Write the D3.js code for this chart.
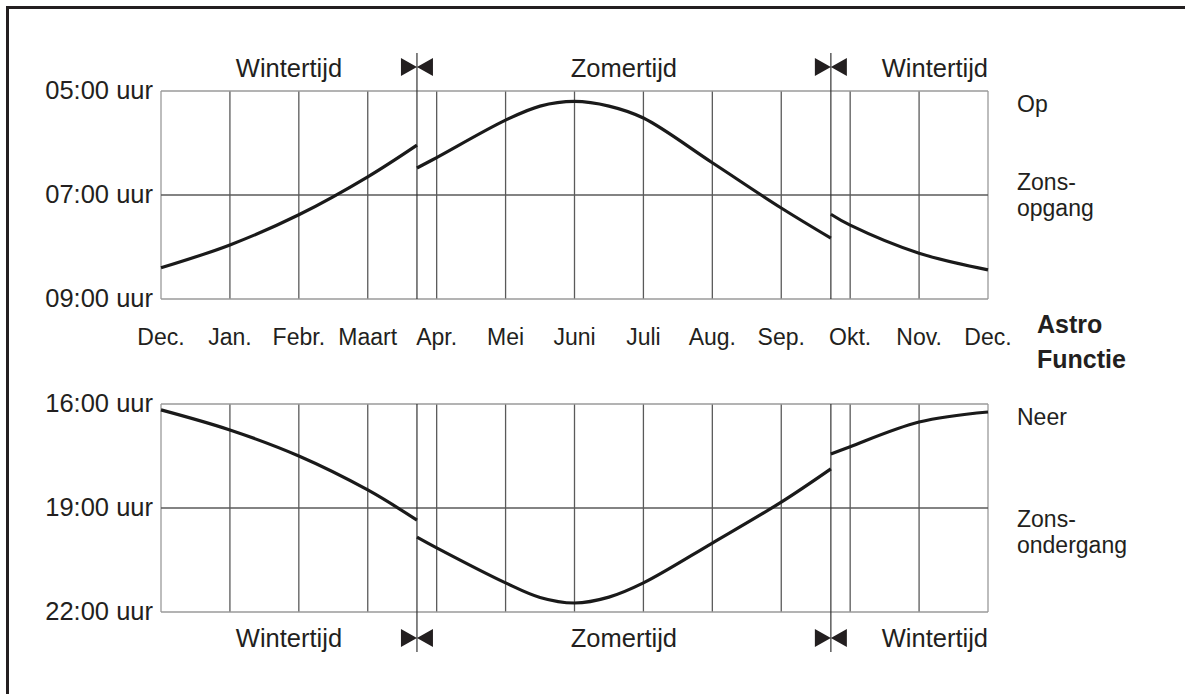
<!DOCTYPE html>
<html>
<head>
<meta charset="utf-8">
<script src="https://cdn.jsdelivr.net/npm/d3@7"></script>
<style>
  body { margin: 0; background: #fff; }
  text { font-family: "Liberation Sans", Arial, sans-serif; fill: #231f20; }
</style>
</head>
<body>
<div id="chart"></div>
<script>
// month labels along the x axis (index 0..12)
var months = ["Dec.", "Jan.", "Febr.", "Maart", "Apr.", "Mei", "Juni", "Juli", "Aug.", "Sep.", "Okt.", "Nov.", "Dec."];

// switch moments between winter and summer time, in month index
var dstSwitches = [3.714, 9.72];
var periods = ["Wintertijd", "Zomertijd", "Wintertijd"];

// y ticks (hours)
var riseTicks = [5, 7, 9];
var setTicks = [16, 19, 22];

// sunrise, hours: [month index, hour]
var riseWinterA = [[0, 8.40], [1, 7.96], [2, 7.38], [3, 6.65], [3.714, 6.04]];
var riseSummer = [[3.714, 6.48], [4, 6.28], [5, 5.56], [5.5, 5.29], [6, 5.20], [6.5, 5.29], [7, 5.52], [8, 6.38], [9, 7.25], [9.72, 7.83]];
var riseWinterB = [[9.72, 7.37], [10, 7.58], [11, 8.12], [12, 8.44]];

// sunset
var setWinterA = [[0, 16.17], [1, 16.75], [2, 17.50], [3, 18.48], [3.714, 19.35]];
var setSummer = [[3.714, 19.84], [4, 20.15], [5, 21.16], [5.5, 21.58], [6, 21.74], [6.5, 21.57], [7, 21.16], [8, 20.01], [9, 18.83], [9.72, 17.87]];
var setWinterB = [[9.72, 17.44], [10, 17.23], [11, 16.52], [12, 16.23]];

var width = 1185, height = 694;

var svg = d3.select("#chart").append("svg")
  .attr("width", width)
  .attr("height", height);

// outer frame (runs off the page to the right and bottom)
svg.append("path")
  .attr("d", "M7.5," + (height + 10) + "V7.5H" + (width + 10))
  .attr("fill", "none")
  .attr("stroke", "#231f20")
  .attr("stroke-width", 3);

var xScale = d3.scaleLinear().domain([0, 12]).range([161, 988]);

var yRise = d3.scaleLinear().domain([5, 9]).range([91, 299]);
var ySet = d3.scaleLinear().domain([16, 22]).range([404, 612]);

function hourLabel(h) {
  return (h < 10 ? "0" : "") + h + ":00 uur";
}

function drawPanel(yScale, ticks, segments, labelSide) {
  var g = svg.append("g");
  var y0 = yScale.range()[0], y1 = yScale.range()[1];

  // vertical month lines
  g.selectAll(".vline")
    .data(d3.range(months.length))
    .enter().append("line")
    .attr("x1", function(d) { return xScale(d); })
    .attr("x2", function(d) { return xScale(d); })
    .attr("y1", y0).attr("y2", y1)
    .attr("stroke", function(d) { return (d === 0 || d === 12) ? "#9a9a9a" : "#5a5a5a"; })
    .attr("stroke-width", 1.3);

  // horizontal hour lines
  g.selectAll(".hline")
    .data(ticks)
    .enter().append("line")
    .attr("x1", xScale(0)).attr("x2", xScale(12))
    .attr("y1", function(d) { return yScale(d); })
    .attr("y2", function(d) { return yScale(d); })
    .attr("stroke", function(d, i) { return i === 1 ? "#5a5a5a" : "#9a9a9a"; })
    .attr("stroke-width", 1.3);

  // y labels
  g.selectAll(".ylab")
    .data(ticks)
    .enter().append("text")
    .attr("x", 153)
    .attr("y", function(d) { return yScale(d); })
    .attr("dy", "0.3em")
    .attr("text-anchor", "end")
    .style("font-size", "25.5px")
    .text(hourLabel);

  // DST switch lines
  var ext = labelSide === "top" ? [53, y1] : [y0, 652];
  g.selectAll(".dst")
    .data(dstSwitches)
    .enter().append("line")
    .attr("x1", function(d) { return xScale(d); })
    .attr("x2", function(d) { return xScale(d); })
    .attr("y1", ext[0]).attr("y2", ext[1])
    .attr("stroke", "#333")
    .attr("stroke-width", 1.2);

  // bow-tie markers
  var my = labelSide === "top" ? 67 : 638;
  g.selectAll(".bow")
    .data(dstSwitches)
    .enter().append("path")
    .attr("d", function(d) {
      var x = xScale(d);
      return "M" + (x - 16) + "," + (my - 9) + "L" + x + "," + my + "L" + (x - 16) + "," + (my + 9) + "Z" +
             "M" + (x + 16) + "," + (my - 9) + "L" + x + "," + my + "L" + (x + 16) + "," + (my + 9) + "Z";
    })
    .attr("fill", "#231f20");

  // period labels
  var bounds = [0].concat(dstSwitches).concat([12]);
  g.selectAll(".period")
    .data(periods)
    .enter().append("text")
    .attr("x", function(d, i) {
      return i === periods.length - 1 ? xScale(bounds[i + 1]) : (xScale(bounds[i]) + xScale(bounds[i + 1])) / 2;
    })
    .attr("y", labelSide === "top" ? 77 : 647)
    .attr("text-anchor", function(d, i) { return i === periods.length - 1 ? "end" : "middle"; })
    .style("font-size", "25.5px")
    .text(function(d) { return d; });

  // curve segments
  var line = d3.line()
    .x(function(d) { return xScale(d[0]); })
    .y(function(d) { return yScale(d[1]); })
    .curve(d3.curveCatmullRom.alpha(0.5));

  g.selectAll(".seg")
    .data(segments)
    .enter().append("path")
    .attr("d", line)
    .attr("fill", "none")
    .attr("stroke", "#1a1a1a")
    .attr("stroke-width", 3.2);
}

drawPanel(yRise, riseTicks, [riseWinterA, riseSummer, riseWinterB], "top");
drawPanel(ySet, setTicks, [setWinterA, setSummer, setWinterB], "bottom");

// month labels between the panels
svg.selectAll(".month")
  .data(months)
  .enter().append("text")
  .attr("x", function(d, i) { return xScale(i); })
  .attr("y", 345)
  .attr("text-anchor", "middle")
  .style("font-size", "23px")
  .text(function(d) { return d; });

// right side labels
var rightTop = [["Op", 112], ["Zons-", 190], ["opgang", 216]];
var rightBottom = [["Neer", 425], ["Zons-", 527], ["ondergang", 553]];

svg.selectAll(".rlab")
  .data(rightTop.concat(rightBottom))
  .enter().append("text")
  .attr("x", 1017)
  .attr("y", function(d) { return d[1]; })
  .style("font-size", "23px")
  .text(function(d) { return d[0]; });

svg.append("text")
  .attr("x", 1037).attr("y", 333)
  .style("font-size", "25px").style("font-weight", "bold")
  .text("Astro");
svg.append("text")
  .attr("x", 1037).attr("y", 368)
  .style("font-size", "25px").style("font-weight", "bold")
  .text("Functie");
</script>
</body>
</html>
